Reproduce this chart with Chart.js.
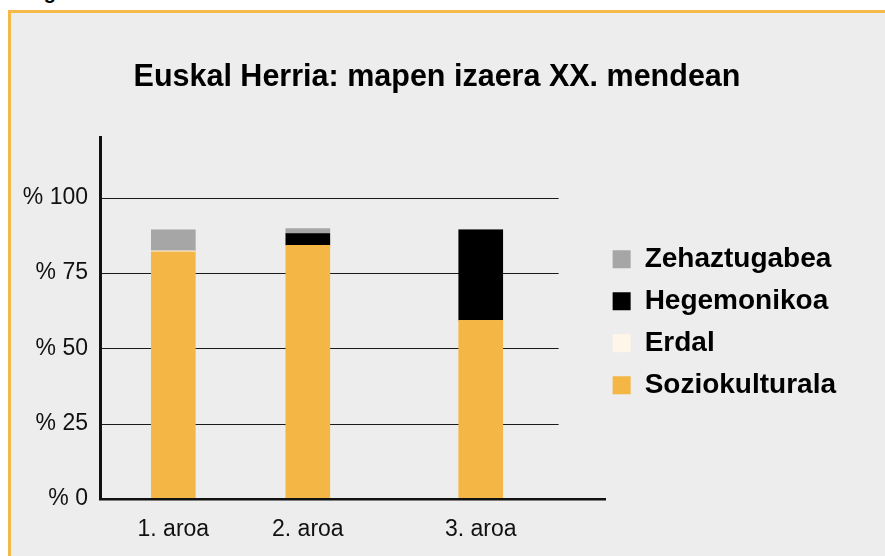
<!DOCTYPE html>
<html lang="eu">
<head>
<meta charset="UTF-8">
<title>Euskal Herria: mapen izaera XX. mendean</title>
<script src="https://cdn.jsdelivr.net/npm/chart.js"></script>
<style>
    html, body { margin: 0; padding: 0; background: #fff; overflow: hidden; }
    body { width: 885px; height: 556px; position: relative; font-family: "Liberation Sans", Arial, sans-serif; }
    /* caption above the frame is cut off, only the g descender shows */
    .caption { position: absolute; left: 26px; top: -19px; font-size: 20px; font-weight: bold; line-height: 23px; color: #000; }
    .frame {
        position: absolute; left: 8px; top: 10px; width: 900px; height: 600px;
        background: #ededed;
        border-left: 3px solid #f5b94a;
        border-top: 3px solid #f5b94a;
    }
    #chart { position: absolute; left: 0; top: 0; }
</style>
</head>
<body>
<div class="caption">Fig</div>
<div class="frame"></div>
<canvas id="chart" width="885" height="556"></canvas>

<script>
// periods on the x axis
const periods = ['1. aroa', '2. aroa', '3. aroa'];

// share of maps (%) per type, stacked bottom to top
const soziokulturala = [82.1, 84.2, 59.3];
const erdal = [0.4, 0, 0];
const hegemonikoa = [0, 3.9, 30.1];
const zehaztugabea = [6.9, 1.7, 0];

const yTicks = [0, 25, 50, 75, 100];

// where the bars sit on the 0..100 x scale (the original spaces them unevenly)
const xSlots = [14.5, 41.1, 75.3];
const gridEnd = 90.7;

const padLeft = 21;
const padRight = 32;
const yAxisWidth = 100 - padLeft;
const xAxisHeight = 57;
const legendShift = { x: -7, y: 4 };

Chart.defaults.font.family = '"Liberation Sans", Arial, sans-serif';
Chart.defaults.color = '#111';

function series(values) {
    return values.map((v, i) => ({ x: xSlots[i], y: v }));
}

// horizontal lines that stop short of the x axis end
const partialGrid = {
    id: 'partialGrid',
    beforeDatasetsDraw(chart) {
        const { ctx, chartArea, scales: { x, y } } = chart;
        const right = x.getPixelForValue(gridEnd);
        ctx.save();
        ctx.strokeStyle = '#1a1a1a';
        ctx.lineWidth = 1;
        yTicks.forEach(v => {
            if (v === 0) return;
            const py = Math.round(y.getPixelForValue(v)) + 0.5;
            ctx.beginPath();
            ctx.moveTo(chartArea.left, py);
            ctx.lineTo(right, py);
            ctx.stroke();
        });
        ctx.restore();
    }
};

// move the legend block a little, the chart area stays where it is
const legendNudge = {
    id: 'legendNudge',
    afterLayout(chart) {
        const lg = chart.legend;
        lg.left += legendShift.x;
        lg.right += legendShift.x;
        lg.top += legendShift.y;
        lg.bottom += legendShift.y;
    }
};

const ds = (label, data, color) => ({
    label: label,
    data: series(data),
    backgroundColor: color,
    borderWidth: 0,
    stack: 'maps',
    barThickness: 44
});

new Chart(document.getElementById('chart').getContext('2d'), {
    type: 'bar',
    data: {
        datasets: [
            ds('Soziokulturala', soziokulturala, '#f4b645'),
            ds('Erdal', erdal, '#fff6ea'),
            ds('Hegemonikoa', hegemonikoa, '#000000'),
            ds('Zehaztugabea', zehaztugabea, '#a6a6a6')
        ]
    },
    options: {
        responsive: false,
        animation: false,
        layout: { padding: { left: padLeft, right: padRight, top: 0, bottom: 0 } },
        plugins: {
            title: {
                display: true,
                text: 'Euskal Herria: mapen izaera XX. mendean',
                color: '#000',
                font: { size: 30.5, weight: 'bold' },
                padding: { top: 59, bottom: 42 }
            },
            legend: {
                position: 'right',
                fullSize: false,
                maxWidth: 400,
                reverse: true,
                labels: {
                    boxWidth: 18,
                    boxHeight: 18,
                    padding: 14,
                    color: '#000',
                    font: { size: 28, weight: 'bold' }
                }
            },
            tooltip: { enabled: false }
        },
        scales: {
            x: {
                type: 'linear',
                min: 0,
                max: 100,
                offset: false,
                grid: { display: false, drawTicks: false, offset: false },
                border: { display: true, color: '#111', width: 2.5, z: 1 },
                afterBuildTicks: s => { s.ticks = xSlots.map(v => ({ value: v })); },
                afterFit: s => { s.height = xAxisHeight; },
                ticks: {
                    autoSkip: false,
                    maxRotation: 0,
                    padding: 17,
                    color: '#111',
                    font: { size: 23 },
                    callback: (v, i) => periods[i]
                }
            },
            y: {
                stacked: true,
                min: 0,
                max: 120,
                grid: { display: false, drawTicks: false },
                border: { display: true, color: '#111', width: 3, z: 1 },
                afterBuildTicks: s => { s.ticks = yTicks.map(v => ({ value: v })); },
                afterFit: s => { s.width = yAxisWidth; },
                ticks: {
                    padding: 12,
                    color: '#111',
                    font: { size: 23 },
                    callback: v => '% ' + v
                }
            }
        }
    },
    plugins: [partialGrid, legendNudge]
});
</script>
</body>
</html>
